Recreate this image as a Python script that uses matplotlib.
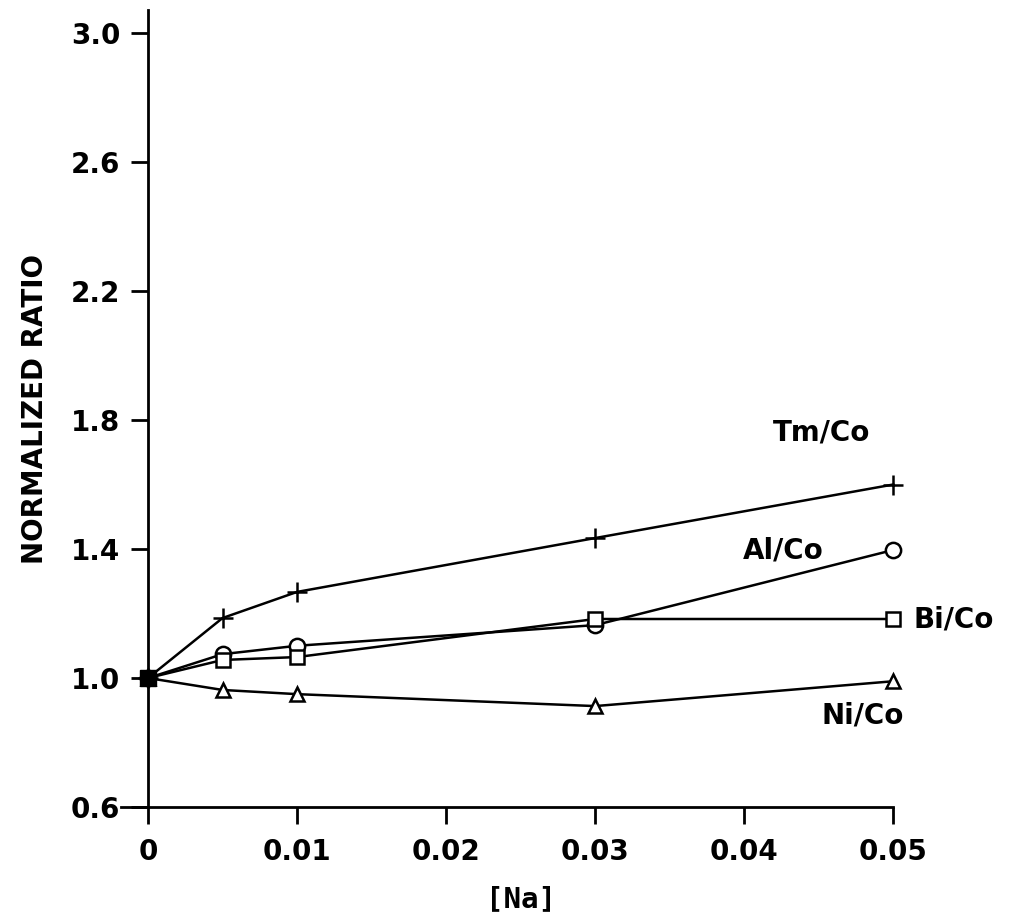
import matplotlib
matplotlib.use("Agg")
import matplotlib.pyplot as plt

na = [0, 0.005, 0.01, 0.03, 0.05]
tm_co = [1.0, 1.186, 1.267, 1.434, 1.600]
al_co = [1.0, 1.074, 1.100, 1.164, 1.397]
bi_co = [1.0, 1.056, 1.065, 1.183, 1.183]
ni_co = [1.0, 0.963, 0.950, 0.913, 0.990]

xticks = [0, 0.01, 0.02, 0.03, 0.04, 0.05]
xticklabels = ["0", "0.01", "0.02", "0.03", "0.04", "0.05"]
yticks = [0.6, 1.0, 1.4, 1.8, 2.2, 2.6, 3.0]
yticklabels = ["0.6", "1.0", "1.4", "1.8", "2.2", "2.6", "3.0"]

plt.rcParams['font.family'] = ['DejaVu Sans']

fig = plt.figure(figsize=(10.16, 9.22), dpi=100)
ax = fig.add_axes([0.1457, 0.1247, 0.7335, 0.864])

lw = 1.8
ax.plot(na, tm_co, color='black', lw=lw, marker='+', ms=15, mew=1.8, clip_on=False)
ax.plot(na, al_co, color='black', lw=lw, marker='o', ms=11, mfc='white', mew=1.8, clip_on=False)
ax.plot(na, bi_co, color='black', lw=lw, marker='s', ms=10, mfc='white', mew=1.8, clip_on=False)
ax.plot(na, ni_co, color='black', lw=lw, marker='^', ms=10, mfc='white', mew=1.8, clip_on=False)
ax.plot([0], [1.0], marker='s', ms=12, color='black', clip_on=False)

ax.set_xlim(0, 0.05)
ax.set_ylim(0.6, 3.07)
ax.set_xticks(xticks)
ax.set_xticklabels(xticklabels)
ax.set_yticks(yticks)
ax.set_yticklabels(yticklabels)

for s in ['top', 'right']:
    ax.spines[s].set_visible(False)
for s in ['left', 'bottom']:
    ax.spines[s].set_linewidth(2)
ax.spines['bottom'].set_bounds(-0.0018, 0.05)
ax.tick_params(axis='both', direction='out', length=12, width=2, labelsize=20)
ax.tick_params(axis='x', pad=10)
ax.tick_params(axis='y', pad=8)
for lab in ax.get_xticklabels() + ax.get_yticklabels():
    lab.set_fontweight('bold')

ax.set_ylabel("NORMALIZED RATIO", fontsize=20, fontweight='bold', labelpad=16)
ax.set_xlabel("[Na]", fontsize=21, fontweight='bold', family=['DejaVu Sans Mono'], labelpad=14)

kw = dict(fontsize=20, fontweight='bold', va='center', ha='left')
ax.text(0.04194, 1.760, "Tm/Co", **kw)
ax.text(0.03992, 1.394, "Al/Co", **kw)
ax.text(0.05134, 1.180, "Bi/Co", **kw)
ax.text(0.04516, 0.885, "Ni/Co", **kw)

fig.savefig("out.png", dpi=100)
